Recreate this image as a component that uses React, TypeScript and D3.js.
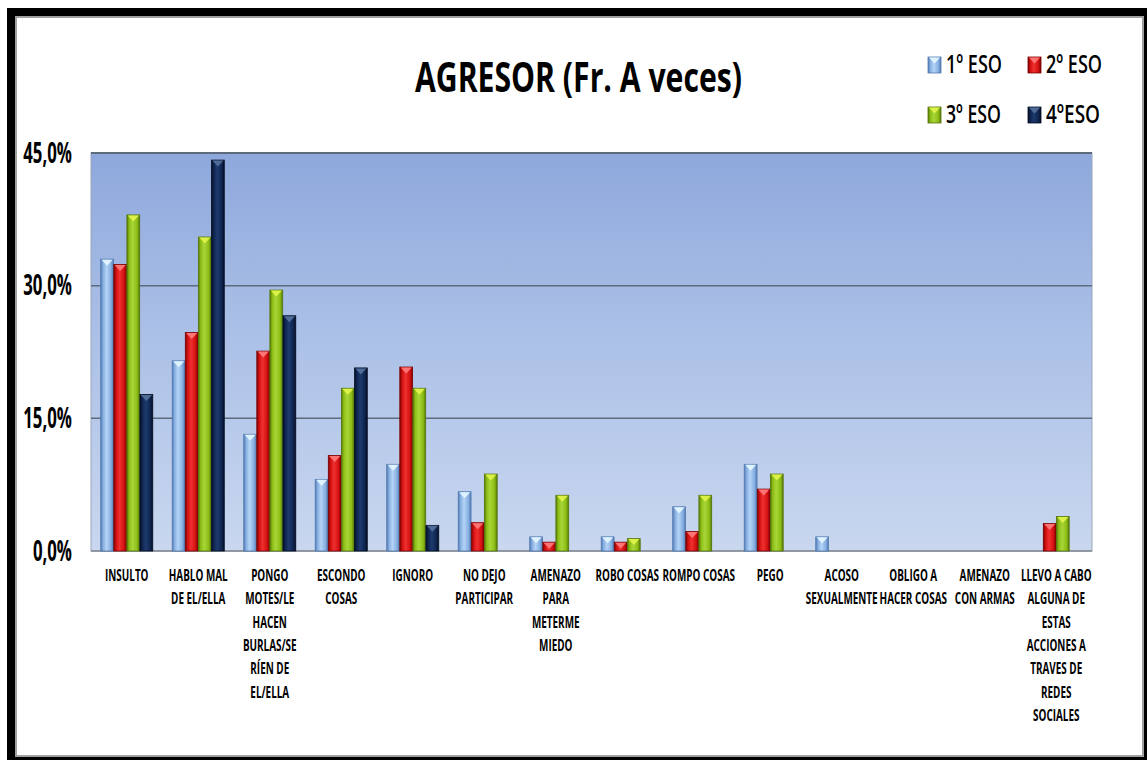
import React from "react";
import * as d3 from "d3";

// Categories (multi-line axis labels)
const categories: string[][] = [
  ["INSULTO"],
  ["HABLO MAL", "DE EL/ELLA"],
  ["PONGO", "MOTES/LE", "HACEN", "BURLAS/SE", "RÍEN DE", "EL/ELLA"],
  ["ESCONDO", "COSAS"],
  ["IGNORO"],
  ["NO DEJO", "PARTICIPAR"],
  ["AMENAZO", "PARA", "METERME", "MIEDO"],
  ["ROBO COSAS"],
  ["ROMPO COSAS"],
  ["PEGO"],
  ["ACOSO", "SEXUALMENTE"],
  ["OBLIGO A", "HACER COSAS"],
  ["AMENAZO", "CON ARMAS"],
  ["LLEVO A CABO", "ALGUNA DE", "ESTAS", "ACCIONES A", "TRAVES DE", "REDES", "SOCIALES"],
];

const seriesNames = ["1º ESO", "2º ESO", "3º ESO", "4ºESO"];

// Percentages per course
const eso1 = [33.0, 21.5, 13.2, 8.1, 9.8, 6.7, 1.6, 1.6, 5.0, 9.8, 1.6, 0, 0, 0];
const eso2 = [32.4, 24.7, 22.6, 10.8, 20.8, 3.2, 1.0, 1.0, 2.2, 7.0, 0, 0, 0, 3.1];
const eso3 = [38.0, 35.5, 29.5, 18.4, 18.4, 8.7, 6.3, 1.4, 6.3, 8.7, 0, 0, 0, 3.9];
const eso4 = [17.7, 44.2, 26.6, 20.7, 2.9, 0, 0, 0, 0, 0, 0, 0, 0, 0];

const yTicks = [0, 15, 30, 45];

const seriesValues = [eso1, eso2, eso3, eso4];

// Shading for each course: edge, base, light, cap
const palette = [
  { edge: "#5079b0", base: "#86aee0", light: "#b4d4f6", cap: "#e4f6ff" },
  { edge: "#7a0000", base: "#d21010", light: "#f03030", cap: "#ff7a7a" },
  { edge: "#557508", base: "#8cbd16", light: "#a8d638", cap: "#e2f44a" },
  { edge: "#040e22", base: "#0f2550", light: "#1e3a6e", cap: "#54719a" },
];

const FONT = "'Open Sans', 'DejaVu Sans', sans-serif";
const SX = 0.6; // horizontal condensation for labels

const plot = { left: 91, right: 1092, top: 153, bottom: 551 };

export default function App() {
  const x = d3
    .scaleBand<number>()
    .domain(d3.range(categories.length))
    .range([plot.left, plot.right])
    .paddingInner(0.272)
    .paddingOuter(0.136);
  const xs = d3
    .scaleBand<number>()
    .domain(d3.range(seriesNames.length))
    .range([0, x.bandwidth()])
    .paddingInner(0.02);
  const y = d3.scaleLinear().domain([0, 45]).range([plot.bottom, plot.top]);

  const bar = (s: number, bx: number, by: number, bw: number, bh: number, key: string) => {
    const c = palette[s];
    const th = Math.min(6.5, bh);
    return (
      <g key={key}>
        <rect x={bx} y={by} width={bw} height={bh} fill={`url(#grad${s})`} stroke={c.edge} strokeWidth={0.8} />
        <path
          d={`M${bx + 0.8},${by + 0.5} L${bx + bw - 0.8},${by + 0.5} L${bx + bw / 2},${by + th} Z`}
          fill={c.cap}
          opacity={0.92}
        />
      </g>
    );
  };

  const legendPos = [
    { sx: 928, tx: 946, by: 73, w: 56 },
    { sx: 1028, tx: 1046, by: 73, w: 56 },
    { sx: 928, tx: 946, by: 123, w: 55 },
    { sx: 1028, tx: 1046, by: 123, w: 54 },
  ];

  return (
    <svg
      width={1147}
      height={760}
      style={{ position: "absolute", left: 0, top: 0, display: "block" }}
      fontFamily={FONT}
    >
      <defs>
        {palette.map((c, i) => (
          <linearGradient key={i} id={`grad${i}`} x1="0" x2="1" y1="0" y2="0">
            <stop offset="0" stopColor={c.edge} />
            <stop offset="0.18" stopColor={c.base} />
            <stop offset="0.45" stopColor={c.light} />
            <stop offset="0.8" stopColor={c.base} />
            <stop offset="1" stopColor={c.edge} />
          </linearGradient>
        ))}
        <linearGradient id="plotBg" x1="0" x2="0" y1="0" y2="1">
          <stop offset="0" stopColor="#8ea8dc" />
          <stop offset="0.45" stopColor="#abc0e7" />
          <stop offset="1" stopColor="#c9d7ef" />
        </linearGradient>
      </defs>

      {/* page frame */}
      <rect x={7} y={8} width={1140} height={752} fill="#000" />
      <rect x={16} y={17} width={1127} height={739} fill="#fff" stroke="#a0a0a0" strokeWidth={2} />

      {/* title */}
      <text
        x={578.5}
        y={92}
        textAnchor="middle"
        fontSize={42}
        fontWeight={700}
        textLength={327}
        lengthAdjust="spacingAndGlyphs"
        fill="#000"
      >
        AGRESOR (Fr. A veces)
      </text>

      {/* legend */}
      {seriesNames.map((n, i) => {
        const p = legendPos[i];
        return (
          <g key={n}>
            {bar(i, p.sx, p.by - 16, 13, 16, `lg${i}`)}
            <text
              x={p.tx}
              y={p.by}
              fontSize={26}
              fontWeight={600}
              textLength={p.w}
              lengthAdjust="spacingAndGlyphs"
              fill="#000"
            >
              {n}
            </text>
          </g>
        );
      })}

      {/* plot area */}
      <rect
        x={plot.left}
        y={plot.top}
        width={plot.right - plot.left}
        height={plot.bottom - plot.top}
        fill="url(#plotBg)"
        stroke="#9aa6b8"
        strokeWidth={1}
      />
      {yTicks.map((t) => (
        <line
          key={t}
          x1={plot.left}
          x2={plot.right}
          y1={y(t)}
          y2={y(t)}
          stroke={t === 0 ? "#7f8790" : "#5d6b7c"}
          strokeWidth={t === 45 ? 2 : 1.5}
        />
      ))}

      {/* y tick labels */}
      {yTicks.map((t) => (
        <text
          key={t}
          transform={`translate(72,${y(t) + 9.5}) scale(${SX},1)`}
          textAnchor="end"
          fontSize={28}
          fontWeight={700}
          fill="#000"
        >
          {d3.format(".1f")(t).replace(".", ",") + "%"}
        </text>
      ))}

      {/* bars */}
      {categories.map((_, ci) => (
        <g key={ci}>
          {seriesValues.map((vals, si) => {
            const v = vals[ci];
            if (!v) return null;
            const bx = (x(ci) as number) + (xs(si) as number);
            const by = y(v);
            return bar(si, bx, by, xs.bandwidth(), y(0) - by, `b${ci}-${si}`);
          })}
        </g>
      ))}

      {/* category labels */}
      {categories.map((lines, ci) => {
        const cx = (x(ci) as number) + x.bandwidth() / 2;
        return (
          <g key={ci}>
            {lines.map((ln, li) => (
              <text
                key={li}
                transform={`translate(${cx},${581 + li * 23.3}) scale(0.62,1)`}
                textAnchor="middle"
                fontSize={16}
                fontWeight={700}
                fill="#000"
              >
                {ln}
              </text>
            ))}
          </g>
        );
      })}
    </svg>
  );
}
